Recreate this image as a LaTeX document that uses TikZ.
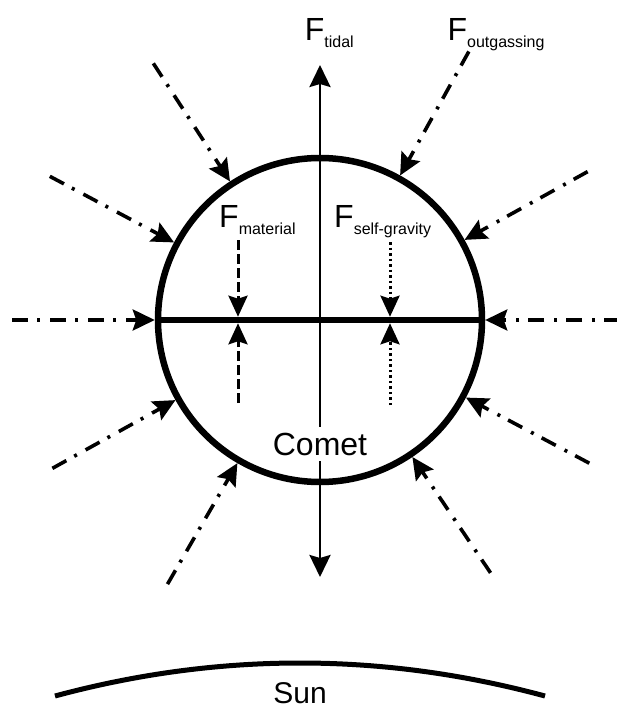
\documentclass[tikz,border=0pt]{standalone}
\usepackage{fontspec}
\setmainfont{Liberation Sans}
\usetikzlibrary{arrows.meta,calc}
\newcommand\lblbig{\fontsize{32}{32}\selectfont}
\newcommand\lblsub{\fontsize{16}{16}\selectfont}
\begin{document}
\begin{tikzpicture}[x=1pt,y=-1pt,
  ddarrow/.style={line width=3.6pt, dash pattern=on 16pt off 9pt on 3pt off 10pt,
    -{Stealth[length=22pt,width=21pt,inset=3.5pt]}},
  tidalarrow/.style={line width=2.8pt,
    {Stealth[length=22pt,width=21pt,inset=3pt]}-{Stealth[length=22pt,width=21pt,inset=3pt]}},
  matarrow/.style={line width=3pt, dash pattern=on 10pt off 4pt,
    -{Stealth[length=21pt,width=19pt,inset=3pt]}},
  sgarrow/.style={line width=3pt, dash pattern=on 2.5pt off 3pt,
    -{Stealth[length=21pt,width=19pt,inset=3pt]}},
  flabel/.style={anchor=base west, inner sep=0pt}]
\useasboundingbox (0,0) rectangle (616,711);

% tidal force (vertical, double headed)
\coordinate (ttop) at (320,65);
\coordinate (tbot) at (320,577);
\draw[tidalarrow] (ttop) -- (tbot);

% comet body
\node[draw, circle, line width=6.5pt, minimum size=324pt, inner sep=0pt] (comet) at (320,320) {};
\draw[line width=6.5pt] (comet.west) -- (comet.east);

% outgassing forces (dash-dot, radial)
\foreach \a/\r in {123/306,152/306,180/308,209/306,240/305,304/305,332/305,0/300,29/306,61/307}{
  \coordinate (s\a) at ($(comet.center)+(\a:\r pt)$);
  \draw[ddarrow] (s\a) -- (comet.\a);
}

% material forces (dashed)
\coordinate (ma1) at (238,240);
\coordinate (ma2) at (238,316.75);
\coordinate (mb1) at (238,403);
\coordinate (mb2) at (238,323.25);
\draw[matarrow] (ma1) -- (ma2);
\draw[matarrow] (mb1) -- (mb2);

% self-gravity forces (dotted)
\coordinate (ga1) at (390,242);
\coordinate (ga2) at (390,316.75);
\coordinate (gb1) at (390,405);
\coordinate (gb2) at (390,323.25);
\draw[sgarrow] (ga1) -- (ga2);
\draw[sgarrow] (gb1) -- (gb2);

% labels
\node[flabel] (ltidal) at (304.7,40.5) {\lblbig F\raisebox{-7pt}{\lblsub tidal}};
\node[flabel] (lout) at (447.4,40.5) {\lblbig F\raisebox{-7pt}{\lblsub outgassing}};
\node[flabel] (lmat) at (219,227.5) {\lblbig F\raisebox{-7pt}{\lblsub material}};
\node[flabel] (lsg) at (334,227.5) {\lblbig F\raisebox{-7pt}{\lblsub self-gravity}};
\node[fill=white, inner sep=6pt, anchor=base] (cometlbl) at (320,455) {\lblbig Comet};

% sun
\coordinate (sunL) at (55,696);
\coordinate (sunC1) at (218,652);
\coordinate (sunC2) at (382,652);
\coordinate (sunR) at (545,696);
\draw[line width=5pt] (sunL) .. controls (sunC1) and (sunC2) .. (sunR);
\node[anchor=base, inner sep=0pt] (sunlbl) at (300,703) {\fontsize{30}{30}\selectfont Sun};
\end{tikzpicture}
\end{document}
